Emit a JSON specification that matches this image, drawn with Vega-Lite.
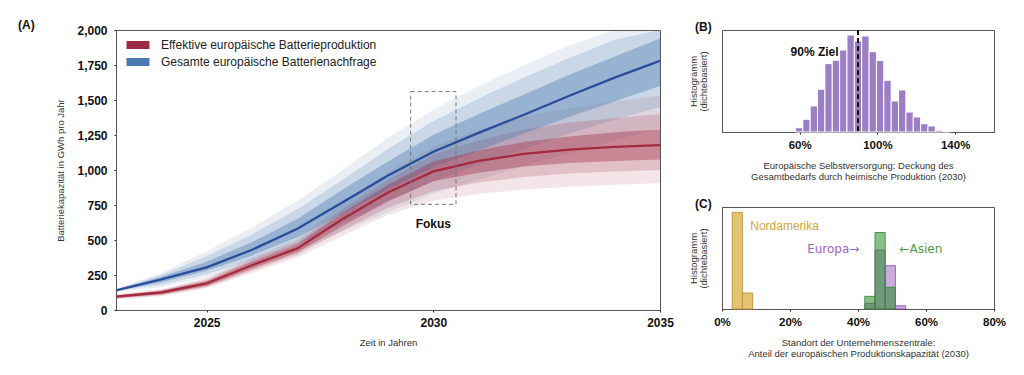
{
  "$schema": "https://vega.github.io/schema/vega-lite/v6.json",
  "background": "white",
  "padding": {"left": 17, "top": 18, "right": 5, "bottom": 5},
  "config": {
    "font": "Liberation Sans",
    "view": {"stroke": "#555", "strokeWidth": 1},
    "axis": {"domainColor": "#555", "tickColor": "#222", "labelColor": "#111", "titleColor": "#333", "grid": false, "labelFontWeight": "bold", "labelFontSize": 12, "titleFontWeight": "normal", "titleFontSize": 9.5, "tickSize": 2, "labelFlush": false, "labelOverlap": false},
    "axisY": {"labelOverlap": false},
    "title": {"fontSize": 12, "fontWeight": "bold", "anchor": "start", "frame": "group", "color": "#111"}
  },
  "datasets": {
    "bands": [
      {"serie": "Gesamte europäische Batterienachfrage", "year": 2023, "med": 140, "lo1": 132, "hi1": 152, "lo2": 135, "hi2": 148, "lo3": 137, "hi3": 145},
      {"serie": "Gesamte europäische Batterienachfrage", "year": 2024, "med": 218, "lo1": 165, "hi1": 265, "lo2": 180, "hi2": 250, "lo3": 198, "hi3": 238},
      {"serie": "Gesamte europäische Batterienachfrage", "year": 2025, "med": 305, "lo1": 230, "hi1": 420, "lo2": 255, "hi2": 385, "lo3": 280, "hi3": 345},
      {"serie": "Gesamte europäische Batterienachfrage", "year": 2026, "med": 430, "lo1": 320, "hi1": 590, "lo2": 355, "hi2": 540, "lo3": 390, "hi3": 485},
      {"serie": "Gesamte europäische Batterienachfrage", "year": 2027, "med": 580, "lo1": 420, "hi1": 780, "lo2": 470, "hi2": 720, "lo3": 520, "hi3": 650},
      {"serie": "Gesamte europäische Batterienachfrage", "year": 2028, "med": 770, "lo1": 560, "hi1": 1000, "lo2": 620, "hi2": 930, "lo3": 690, "hi3": 860},
      {"serie": "Gesamte europäische Batterienachfrage", "year": 2029, "med": 960, "lo1": 700, "hi1": 1230, "lo2": 780, "hi2": 1150, "lo3": 860, "hi3": 1060},
      {"serie": "Gesamte europäische Batterienachfrage", "year": 2030, "med": 1130, "lo1": 830, "hi1": 1430, "lo2": 920, "hi2": 1350, "lo3": 1020, "hi3": 1250},
      {"serie": "Gesamte europäische Batterienachfrage", "year": 2031, "med": 1265, "lo1": 930, "hi1": 1600, "lo2": 1040, "hi2": 1510, "lo3": 1140, "hi3": 1400},
      {"serie": "Gesamte europäische Batterienachfrage", "year": 2032, "med": 1395, "lo1": 1030, "hi1": 1750, "lo2": 1150, "hi2": 1660, "lo3": 1260, "hi3": 1540},
      {"serie": "Gesamte europäische Batterienachfrage", "year": 2033, "med": 1530, "lo1": 1120, "hi1": 1890, "lo2": 1260, "hi2": 1800, "lo3": 1380, "hi3": 1680},
      {"serie": "Gesamte europäische Batterienachfrage", "year": 2034, "med": 1660, "lo1": 1210, "hi1": 2000, "lo2": 1360, "hi2": 1930, "lo3": 1490, "hi3": 1810},
      {"serie": "Gesamte europäische Batterienachfrage", "year": 2035, "med": 1780, "lo1": 1300, "hi1": 2000, "lo2": 1450, "hi2": 2000, "lo3": 1600, "hi3": 1940},
      {"serie": "Effektive europäische Batterieproduktion", "year": 2023, "med": 95, "lo1": 75, "hi1": 112, "lo2": 82, "hi2": 106, "lo3": 86, "hi3": 104},
      {"serie": "Effektive europäische Batterieproduktion", "year": 2024, "med": 125, "lo1": 98, "hi1": 150, "lo2": 106, "hi2": 142, "lo3": 112, "hi3": 137},
      {"serie": "Effektive europäische Batterieproduktion", "year": 2025, "med": 190, "lo1": 155, "hi1": 228, "lo2": 165, "hi2": 218, "lo3": 172, "hi3": 208},
      {"serie": "Effektive europäische Batterieproduktion", "year": 2026, "med": 320, "lo1": 265, "hi1": 375, "lo2": 280, "hi2": 360, "lo3": 294, "hi3": 347},
      {"serie": "Effektive europäische Batterieproduktion", "year": 2027, "med": 440, "lo1": 375, "hi1": 505, "lo2": 395, "hi2": 485, "lo3": 410, "hi3": 470},
      {"serie": "Effektive europäische Batterieproduktion", "year": 2028, "med": 650, "lo1": 530, "hi1": 760, "lo2": 570, "hi2": 720, "lo3": 600, "hi3": 695},
      {"serie": "Effektive europäische Batterieproduktion", "year": 2029, "med": 840, "lo1": 680, "hi1": 980, "lo2": 730, "hi2": 930, "lo3": 775, "hi3": 895},
      {"serie": "Effektive europäische Batterieproduktion", "year": 2030, "med": 990, "lo1": 780, "hi1": 1170, "lo2": 850, "hi2": 1110, "lo3": 920, "hi3": 1060},
      {"serie": "Effektive europäische Batterieproduktion", "year": 2031, "med": 1065, "lo1": 830, "hi1": 1290, "lo2": 910, "hi2": 1210, "lo3": 980, "hi3": 1140},
      {"serie": "Effektive europäische Batterieproduktion", "year": 2032, "med": 1115, "lo1": 860, "hi1": 1380, "lo2": 950, "hi2": 1290, "lo3": 1025, "hi3": 1200},
      {"serie": "Effektive europäische Batterieproduktion", "year": 2033, "med": 1145, "lo1": 880, "hi1": 1440, "lo2": 975, "hi2": 1340, "lo3": 1050, "hi3": 1240},
      {"serie": "Effektive europäische Batterieproduktion", "year": 2034, "med": 1165, "lo1": 895, "hi1": 1490, "lo2": 990, "hi2": 1370, "lo3": 1065, "hi3": 1270},
      {"serie": "Effektive europäische Batterieproduktion", "year": 2035, "med": 1178, "lo1": 905, "hi1": 1530, "lo2": 1000, "hi2": 1400, "lo3": 1075, "hi3": 1290}
    ],
    "b": [
      {"x0": 57.8, "x1": 61.59, "h": 4.2}, {"x0": 61.59, "x1": 65.38, "h": 12.5}, {"x0": 65.38, "x1": 69.17, "h": 25.5},
      {"x0": 69.17, "x1": 72.96, "h": 41.9}, {"x0": 72.96, "x1": 76.75, "h": 67}, {"x0": 76.75, "x1": 80.54, "h": 70.3},
      {"x0": 80.54, "x1": 84.33, "h": 80.4}, {"x0": 84.33, "x1": 88.12, "h": 95.1}, {"x0": 88.12, "x1": 91.91, "h": 89.2},
      {"x0": 91.91, "x1": 95.7, "h": 94.1}, {"x0": 95.7, "x1": 99.49, "h": 78.7}, {"x0": 99.49, "x1": 103.28, "h": 70.1},
      {"x0": 103.28, "x1": 107.07, "h": 50.7}, {"x0": 107.07, "x1": 110.86, "h": 30.4}, {"x0": 110.86, "x1": 114.65, "h": 41.2},
      {"x0": 114.65, "x1": 118.44, "h": 19.6}, {"x0": 118.44, "x1": 122.23, "h": 14.7}, {"x0": 122.23, "x1": 126.02, "h": 8.1},
      {"x0": 126.02, "x1": 129.81, "h": 5.9}, {"x0": 129.81, "x1": 133.6, "h": 1.7}, {"x0": 133.6, "x1": 137.39, "h": 0.6}
    ],
    "c": [
      {"region": "Nordamerika", "x0": 3, "x1": 6, "h": 94.7},
      {"region": "Nordamerika", "x0": 6, "x1": 9, "h": 15.7},
      {"region": "Europa", "x0": 42, "x1": 45, "h": 5.5},
      {"region": "Europa", "x0": 45, "x1": 48, "h": 57.8},
      {"region": "Europa", "x0": 48, "x1": 51, "h": 42.5},
      {"region": "Europa", "x0": 51, "x1": 54, "h": 3.2},
      {"region": "Asien", "x0": 42, "x1": 45, "h": 12.4},
      {"region": "Asien", "x0": 45, "x1": 48, "h": 75},
      {"region": "Asien", "x0": 48, "x1": 51, "h": 21.2}
    ]
  },
  "bounds": "flush",
  "spacing": 62,
  "hconcat": [
    {
      "width": 544,
      "height": 280,
      "title": {"text": "(A)", "dx": -98, "offset": -8},
      "data": {"name": "bands"},
      "layer": [
        {
          "mark": {"type": "area", "opacity": 0.12, "clip": true},
          "encoding": {
            "x": {"field": "year", "type": "quantitative", "scale": {"domain": [2023, 2035], "nice": false, "zero": false},
                  "axis": {"values": [2025, 2030, 2035], "format": "d", "title": "Zeit in Jahren", "labelPadding": 5, "titlePadding": 9, "labelOverlap": false}},
            "y": {"field": "lo1", "type": "quantitative", "scale": {"domain": [0, 2000], "nice": false},
                  "axis": {"values": [0, 250, 500, 750, 1000, 1250, 1500, 1750, 2000], "format": ",.0f", "title": "Batteriekapazität in GWh pro Jahr", "labelPadding": 7, "titlePadding": 11, "labelOverlap": false}},
            "y2": {"field": "hi1"},
            "color": {"field": "serie", "type": "nominal",
                      "scale": {"domain": ["Effektive europäische Batterieproduktion", "Gesamte europäische Batterienachfrage"], "range": ["#9E2B45", "#4A78B0"]},
                      "legend": {"orient": "none", "legendX": 16, "legendY": 9, "title": null, "symbolType": "M-2,-0.7H2V0.7H-2Z", "symbolSize": 132, "symbolOpacity": 1, "symbolStrokeWidth": 0, "labelFontSize": 12, "labelColor": "#222", "labelOffset": 17, "rowPadding": 5, "padding": 0, "labelLimit": 400,
                                 "encode": {"symbols": {"update": {"opacity": {"value": 1}, "fillOpacity": {"value": 1}}}}}}
          }
        },
        {
          "mark": {"type": "area", "opacity": 0.2, "clip": true},
          "encoding": {
            "x": {"field": "year", "type": "quantitative"},
            "y": {"field": "lo2", "type": "quantitative",
                  "axis": {"values": [0, 250, 500, 750, 1000, 1250, 1500, 1750, 2000], "format": ",.0f", "title": "Batteriekapazität in GWh pro Jahr", "labelPadding": 7, "titlePadding": 11, "labelOverlap": false}},
            "y2": {"field": "hi2"},
            "color": {"field": "serie", "type": "nominal"}
          }
        },
        {
          "mark": {"type": "area", "opacity": 0.38, "clip": true},
          "encoding": {
            "x": {"field": "year", "type": "quantitative"},
            "y": {"field": "lo3", "type": "quantitative",
                  "axis": {"values": [0, 250, 500, 750, 1000, 1250, 1500, 1750, 2000], "format": ",.0f", "title": "Batteriekapazität in GWh pro Jahr", "labelPadding": 7, "titlePadding": 11, "labelOverlap": false}},
            "y2": {"field": "hi3"},
            "color": {"field": "serie", "type": "nominal"}
          }
        },
        {
          "mark": {"type": "line", "strokeWidth": 2.3, "clip": true},
          "encoding": {
            "x": {"field": "year", "type": "quantitative"},
            "y": {"field": "med", "type": "quantitative",
                  "axis": {"values": [0, 250, 500, 750, 1000, 1250, 1500, 1750, 2000], "format": ",.0f", "title": "Batteriekapazität in GWh pro Jahr", "labelPadding": 7, "titlePadding": 11, "labelOverlap": false}},
            "stroke": {"field": "serie", "type": "nominal",
                       "scale": {"domain": ["Effektive europäische Batterieproduktion", "Gesamte europäische Batterienachfrage"], "range": ["#A42A3F", "#2A4C9C"]},
                       "legend": null}
          }
        },
        {
          "data": {"values": [{}]},
          "mark": {"type": "rect", "fill": null, "fillOpacity": 0, "stroke": "#777", "strokeWidth": 1, "strokeDash": [4, 3]},
          "encoding": {
            "x": {"datum": 2029.5, "type": "quantitative"},
            "x2": {"datum": 2030.5},
            "y": {"datum": 755, "type": "quantitative",
                  "axis": {"values": [0, 250, 500, 750, 1000, 1250, 1500, 1750, 2000], "format": ",.0f", "title": "Batteriekapazität in GWh pro Jahr", "labelPadding": 7, "titlePadding": 11, "labelOverlap": false}},
            "y2": {"datum": 1560}
          }
        },
        {
          "data": {"values": [{}]},
          "mark": {"type": "text", "text": "Fokus", "fontWeight": "bold", "fontSize": 12, "color": "#111", "baseline": "middle", "align": "center"},
          "encoding": {
            "x": {"datum": 2030, "type": "quantitative"},
            "y": {"datum": 612, "type": "quantitative",
                  "axis": {"values": [0, 250, 500, 750, 1000, 1250, 1500, 1750, 2000], "format": ",.0f", "title": "Batteriekapazität in GWh pro Jahr", "labelPadding": 7, "titlePadding": 11, "labelOverlap": false}}
          }
        }
      ]
    },
    {
      "bounds": "flush",
      "spacing": 75,
      "vconcat": [
        {
          "width": 272,
          "height": 102,
          "title": {"text": "(B)", "dx": -27, "offset": -5},
          "data": {"name": "b"},
          "layer": [
            {
              "mark": {"type": "bar", "fill": "#9B7EC4", "stroke": "white", "strokeWidth": 1},
              "encoding": {
                "x": {"field": "x0", "type": "quantitative", "scale": {"domain": [20, 160], "nice": false, "zero": false},
                      "axis": {"values": [60, 100, 140], "labelExpr": "datum.value + '%'", "labelFontSize": 11.5, "labelPadding": 5, "titlePadding": 10, "titleLineHeight": 11,
                               "title": ["Europäische Selbstversorgung: Deckung des", "Gesamtbedarfs durch heimische Produktion (2030)"]}},
                "x2": {"field": "x1"},
                "y": {"field": "h", "type": "quantitative", "scale": {"domain": [0, 100], "nice": false},
                      "axis": {"labels": false, "ticks": false, "title": ["Histogramm", "(dichtebasiert)"], "titlePadding": 14, "titleLineHeight": 9.5}},
                "y2": {"datum": 0}
              }
            },
            {
              "data": {"values": [{}]},
              "mark": {"type": "rule", "color": "#111", "strokeWidth": 2, "strokeDash": [5, 3]},
              "encoding": {"x": {"datum": 90, "type": "quantitative"}}
            },
            {
              "data": {"values": [{}]},
              "mark": {"type": "text", "text": "90% Ziel", "fontWeight": "bold", "fontSize": 12, "color": "#111", "align": "right", "baseline": "middle"},
              "encoding": {
                "x": {"datum": 80, "type": "quantitative"},
                "y": {"datum": 78, "type": "quantitative"}
              }
            }
          ]
        },
        {
          "width": 272,
          "height": 102,
          "title": {"text": "(C)", "dx": -27, "offset": -4},
          "data": {"name": "c"},
          "layer": [
            {
              "transform": [{"filter": "datum.region === 'Nordamerika'"}],
              "mark": {"type": "bar", "fill": "#D9AE45", "fillOpacity": 0.75, "stroke": "#C49A3E", "strokeWidth": 1},
              "encoding": {
                "x": {"field": "x0", "type": "quantitative", "scale": {"domain": [0, 80], "nice": false, "zero": false},
                      "axis": {"values": [0, 20, 40, 60, 80], "labelExpr": "datum.value + '%'", "labelFontSize": 11.5, "labelPadding": 5, "titlePadding": 10, "titleLineHeight": 11,
                               "title": ["Standort der Unternehmenszentrale:", "Anteil der europäischen Produktionskapazität (2030)"]}},
                "x2": {"field": "x1"},
                "y": {"field": "h", "type": "quantitative", "scale": {"domain": [0, 100], "nice": false},
                      "axis": {"labels": false, "ticks": false, "title": ["Histogramm", "(dichtebasiert)"], "titlePadding": 14, "titleLineHeight": 9.5}},
                "y2": {"datum": 0}
              }
            },
            {
              "transform": [{"filter": "datum.region === 'Europa'"}],
              "mark": {"type": "bar", "fill": "#8C46B4", "fillOpacity": 0.45, "stroke": "#8C46B4", "strokeOpacity": 0.8, "strokeWidth": 1},
              "encoding": {
                "x": {"field": "x0", "type": "quantitative"},
                "x2": {"field": "x1"},
                "y": {"field": "h", "type": "quantitative"},
                "y2": {"datum": 0}
              }
            },
            {
              "transform": [{"filter": "datum.region === 'Asien'"}],
              "mark": {"type": "bar", "fill": "#288C28", "fillOpacity": 0.55, "stroke": "#3C8C3C", "strokeOpacity": 0.9, "strokeWidth": 1},
              "encoding": {
                "x": {"field": "x0", "type": "quantitative"},
                "x2": {"field": "x1"},
                "y": {"field": "h", "type": "quantitative"},
                "y2": {"datum": 0}
              }
            },
            {
              "data": {"values": [{}]},
              "mark": {"type": "text", "text": "Nordamerika", "fontSize": 12, "color": "#D4A53A", "align": "left", "baseline": "middle"},
              "encoding": {"x": {"datum": 8.3, "type": "quantitative"}, "y": {"datum": 81.7, "type": "quantitative"}}
            },
            {
              "data": {"values": [{}]},
              "mark": {"type": "text", "text": "Europa→", "fontSize": 12, "color": "#9966C2", "align": "right", "baseline": "middle", "font": "DejaVu Sans"},
              "encoding": {"x": {"datum": 40.4, "type": "quantitative"}, "y": {"datum": 59, "type": "quantitative"}}
            },
            {
              "data": {"values": [{}]},
              "mark": {"type": "text", "text": "←Asien", "fontSize": 12, "color": "#4C9A4C", "align": "left", "baseline": "middle", "font": "DejaVu Sans"},
              "encoding": {"x": {"datum": 52.2, "type": "quantitative"}, "y": {"datum": 59, "type": "quantitative"}}
            }
          ]
        }
      ]
    }
  ]
}
